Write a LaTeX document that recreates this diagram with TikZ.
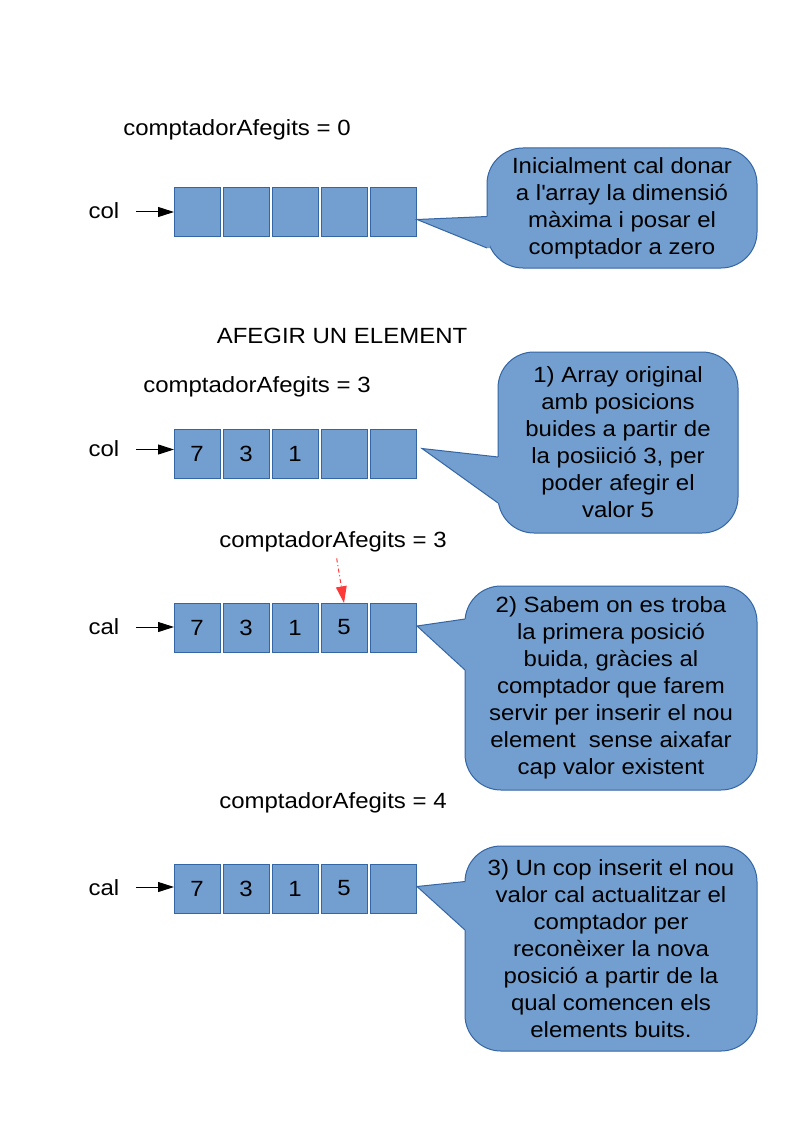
\documentclass[tikz,border=0pt]{standalone}
\usepackage{fontspec}
\setmainfont{Liberation Sans}[FakeStretch=1.09]
\usetikzlibrary{arrows.meta}
\definecolor{boxfill}{HTML}{729FCF}
\definecolor{boxline}{HTML}{3465A4}
\definecolor{hintred}{HTML}{FF3838}
\begin{document}
\begin{tikzpicture}[x=0.75pt,y=-0.75pt,
  every node/.style={inner sep=0pt, outer sep=0pt},
  lbl/.style={font=\fontsize{16.5pt}{20.25pt}\selectfont, anchor=base},
  cellbox/.style={draw=boxline, fill=boxfill, line width=0.75pt, minimum width=34.5pt, minimum height=36.75pt, font=\fontsize{16.5pt}{20.25pt}\selectfont},
  callout/.style={draw=boxline, fill=boxfill, line width=0.75pt, rounded corners=27pt, align=center, font=\fontsize{16.5pt}{20.25pt}\selectfont},
  ptr/.style={-{Triangle[length=12pt,width=7.5pt]}, line width=0.75pt},
  hint/.style={hintred, dash pattern=on 3pt off 2pt on 0.75pt off 2pt, line width=0.75pt, -{Triangle[length=12.5pt,width=8pt]}},
  border/.style={boxline, line width=0.75pt, line join=miter}
]
\fill[white] (0,0) rectangle (794,1123);
\useasboundingbox (0,0) rectangle (794,1123);

% ---------- row 1 ----------
\node[lbl] (cnt0) at (237,136) {comptadorAfegits = 0};
\node[lbl] (col1) at (104,219) {col};
\foreach \i/\x in {1/197,2/246,3/295,4/344,5/393}
  \node[cellbox] (a\i) at (\x,212.5) {};
\coordinate (s1) at (136,212);
\draw[ptr] (s1) -- (s1 -| a1.west);

\node[callout, minimum width=202.5pt, minimum height=90pt] (c1) at (622,208)
  {Inicialment cal donar\\a l\textquotesingle array la dimensió\\màxima i posar el\\comptador a zero};
\coordinate (t1) at (417,219.5);
\coordinate (u1) at (487,216.5);
\coordinate (l1) at (487,248);
\fill[boxfill] (t1) -- (u1) -- ++(3,0) |- (l1) -- cycle;
\draw[border] (u1) -- (t1) -- (l1);

% ---------- title ----------
\node[lbl] (title) at (342,343) {AFEGIR UN ELEMENT};

% ---------- row 2 ----------
\node[lbl] (cnt1) at (257,392) {comptadorAfegits = 3};
\node[lbl] (col2) at (104,456.5) {col};
\foreach \i/\x/\v in {1/197/7,2/246/3,3/295/1,4/344/,5/393/}
  \node[cellbox] (b\i) at (\x,453.5) {\v};
\coordinate (s2) at (136,449.5);
\draw[ptr] (s2) -- (s2 -| b1.west);

\node[callout, minimum width=180pt, minimum height=135.75pt] (c2) at (618,442.5)
  {1) Array original\\amb posicions\\buides a partir de\\la posiició 3, per\\poder afegir el\\valor 5};
\coordinate (t2) at (422,448.5);
\coordinate (u2) at (498,457);
\coordinate (l2) at (498,503);
\fill[boxfill] (t2) -- (u2) -- ++(3,0) |- (l2) -- cycle;
\draw[border] (u2) -- (t2) -- (l2);

% ---------- row 3 ----------
\node[lbl] (cnt2) at (333,547) {comptadorAfegits = 3};
\node[lbl] (cal3) at (104,634) {cal};
\foreach \i/\x/\v in {1/197/7,2/246/3,3/295/1,4/344/5,5/393/}
  \node[cellbox] (r\i) at (\x,627.5) {\v};
\coordinate (s3) at (136,627);
\draw[ptr] (s3) -- (s3 -| r1.west);
\coordinate (h3) at (336.7,558.5);
\draw[hint] (h3) -- (r4.north);

\node[callout, minimum width=219pt, minimum height=153pt] (c3) at (611,688)
  {2) Sabem on es troba\\la primera posició\\buida, gràcies al\\comptador que farem\\servir per inserir el nou\\element\ \ sense aixafar\\cap valor existent};
\coordinate (t3) at (417,626);
\coordinate (u3) at (465,619);
\coordinate (l3) at (465,670);
\fill[boxfill] (t3) -- (u3) -- ++(3,0) |- (l3) -- cycle;
\draw[border] (u3) -- (t3) -- (l3);

% ---------- row 4 ----------
\node[lbl] (cnt3) at (333,808) {comptadorAfegits = 4};
\node[lbl] (cal4) at (104,895) {cal};
\foreach \i/\x/\v in {1/197/7,2/246/3,3/295/1,4/344/5,5/393/}
  \node[cellbox] (d\i) at (\x,888.5) {\v};
\coordinate (s4) at (136,887);
\draw[ptr] (s4) -- (s4 -| d1.west);

\node[callout, minimum width=219pt, minimum height=153.75pt] (c4) at (611,948.5)
  {3) Un cop inserit el nou\\valor cal actualitzar el\\comptador per\\reconèixer la nova\\posició a partir de la\\qual comencen els\\elements buits.};
\coordinate (t4) at (417,886.5);
\coordinate (u4) at (465,881.5);
\coordinate (l4) at (465,930);
\fill[boxfill] (t4) -- (u4) -- ++(3,0) |- (l4) -- cycle;
\draw[border] (u4) -- (t4) -- (l4);
\end{tikzpicture}
\end{document}
